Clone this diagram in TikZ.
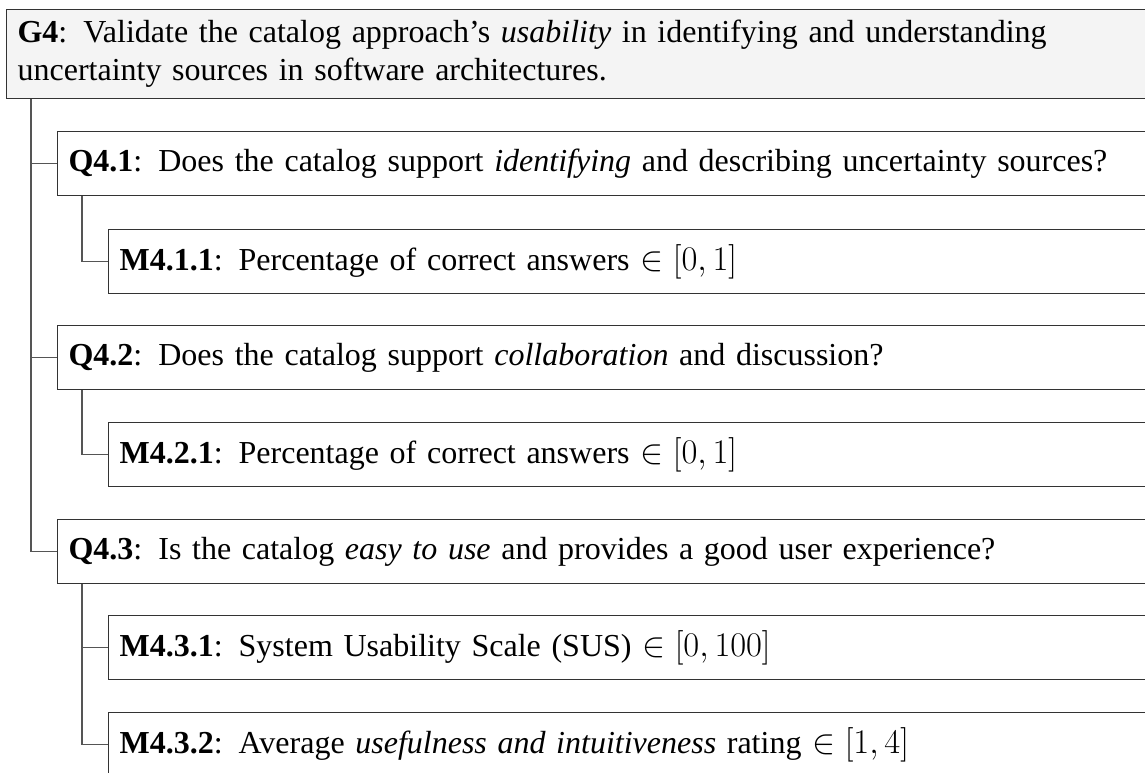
\documentclass[tikz,border=0pt]{standalone}
\usepackage{fontspec}
\setmainfont{Liberation Serif}
\definecolor{boxc}{HTML}{333333}
\definecolor{connc}{HTML}{555555}
\definecolor{goalfill}{HTML}{F4F4F4}
\begin{document}
\begin{tikzpicture}[x=0.5pt,y=-0.5pt,
  box/.style={draw=boxc, line width=0.6pt, rectangle, anchor=north west, align=left,
    text width=620pt, inner xsep=5.5pt, minimum height=32pt,
    font=\fontsize{16}{19}\selectfont},
  conn/.style={draw=connc, line width=0.6pt}]
\useasboundingbox (0,0) rectangle (1145,772);
\clip (0,0) rectangle (1145,772);
\node[box, fill=goalfill, minimum height=44.5pt] (g4) at (6,9)
  {\textbf{G4}: Validate the catalog approach’s \emph{usability} in identifying and understanding\\
   uncertainty sources in software architectures.};
\node[box] (q41) at (57,131) {\textbf{Q4.1}: Does the catalog support \emph{identifying} and describing uncertainty sources?};
\node[box] (m411) at (108,229) {\textbf{M4.1.1}: Percentage of correct answers $\in [0, 1]$};
\node[box] (q42) at (57,325) {\textbf{Q4.2}: Does the catalog support \emph{collaboration} and discussion?};
\node[box] (m421) at (108,422) {\textbf{M4.2.1}: Percentage of correct answers $\in [0, 1]$};
\node[box] (q43) at (57,519) {\textbf{Q4.3}: Is the catalog \emph{easy to use} and provides a good user experience?};
\node[box] (m431) at (108,615) {\textbf{M4.3.1}: System Usability Scale (SUS) $\in [0, 100]$};
\node[box] (m432) at (108,712) {\textbf{M4.3.2}: Average \emph{usefulness and intuitiveness} rating $\in [1, 4]$};
\draw[conn] ([xshift=12.5pt]g4.south west) |- (q41.west);
\draw[conn] ([xshift=12.5pt]g4.south west) |- (q42.west);
\draw[conn] ([xshift=12.5pt]g4.south west) |- (q43.west);
\draw[conn] ([xshift=12.5pt]q41.south west) |- (m411.west);
\draw[conn] ([xshift=12.5pt]q42.south west) |- (m421.west);
\draw[conn] ([xshift=12.5pt]q43.south west) |- (m431.west);
\draw[conn] ([xshift=12.5pt]q43.south west) |- (m432.west);
\end{tikzpicture}
\end{document}
